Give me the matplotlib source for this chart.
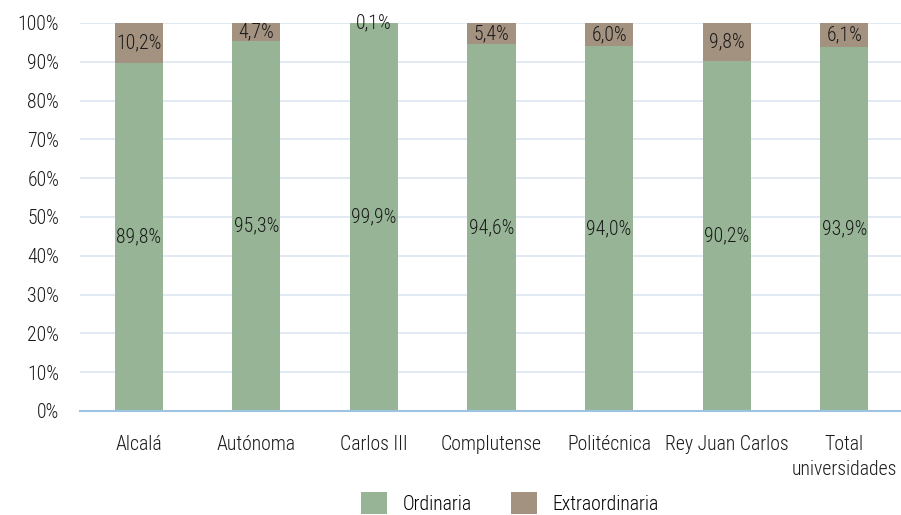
import numpy as np
import matplotlib
matplotlib.use("Agg")
import matplotlib.pyplot as plt
from matplotlib import font_manager
from matplotlib.ticker import FuncFormatter

#%% --- Data ---
universidades = ["Alcalá", "Autónoma", "Carlos III", "Complutense",
                 "Politécnica", "Rey Juan Carlos", "Total\nuniversidades"]
ordinaria = [89.8, 95.3, 99.9, 94.6, 94.0, 90.2, 93.9]
extraordinaria = [10.2, 4.7, 0.1, 5.4, 6.0, 9.8, 6.1]

#%% --- Style ---
# pick a narrow font if the system has one
installed = {f.name for f in font_manager.fontManager.ttflist}
narrow = [n for n in ["Liberation Sans Narrow", "Roboto Condensed",
                      "DejaVu Sans Condensed", "Open Sans Condensed"] if n in installed]
if narrow:
    plt.rcParams['font.family'] = [narrow[0], 'DejaVu Sans']
    fsize = 14.2
else:
    plt.rcParams['font.family'] = ['Roboto', 'DejaVu Sans']
    fsize = 12
plt.rcParams['font.weight'] = 'light'

color_ord = "#97b596"
color_ext = "#a39280"
grid_color = "#dbe6f1"
axis_color = "#9dc3e0"
text_color = "#1a1a1a"

#%% --- Figure ---
fig = plt.figure(figsize=(9.01, 5.15), dpi=100)
ax = fig.add_axes([80 / 901, (515 - 411) / 515, 823 / 901, 388 / 515])

x = np.arange(len(universidades))
bar_w = 0.41

ax.bar(x, ordinaria, width=bar_w, color=color_ord, label="Ordinaria", zorder=2)
ax.bar(x, extraordinaria, width=bar_w, bottom=ordinaria, color=color_ext,
       label="Extraordinaria", zorder=2)

# value labels
def fmt(v):
    return "{:.1f}%".format(v).replace(".", ",")

for xi, o, e in zip(x, ordinaria, extraordinaria):
    ax.text(xi, o / 2, fmt(o), ha="center", va="center", fontsize=fsize,
            color=text_color, zorder=3)
    ax.text(xi, o + e / 2, fmt(e), ha="center", va="center", fontsize=fsize,
            color=text_color, zorder=3)

# --- Axes ---
ax.set_xlim(-0.5, len(universidades) - 0.5)
ax.set_ylim(0, 100)
ax.set_yticks(np.arange(0, 101, 10))
ax.yaxis.set_major_formatter(FuncFormatter(lambda v, p: "{:.0f}%".format(v)))
ax.set_xticks(x)
ax.set_xticklabels(universidades)
ax.tick_params(axis="both", length=0, labelsize=fsize, colors=text_color)
ax.tick_params(axis="y", pad=15)
ax.tick_params(axis="x", pad=17)
for lbl in ax.get_xticklabels():
    lbl.set_linespacing(1.45)

ax.grid(axis="y", color=grid_color, linewidth=1.2, zorder=0)
ax.set_axisbelow(True)
for side in ["top", "right", "left"]:
    ax.spines[side].set_visible(False)
ax.spines["bottom"].set_color(axis_color)
ax.spines["bottom"].set_linewidth(1.5)
ax.spines["bottom"].set_zorder(4)

# --- Legend ---
fig.legend(loc="lower center", bbox_to_anchor=(0.566, -0.032), ncol=2,
           frameon=False, fontsize=fsize, handlelength=1.3, handleheight=1.3,
           columnspacing=2.0, handletextpad=0.8)

plt.savefig("out.png", dpi=100)
